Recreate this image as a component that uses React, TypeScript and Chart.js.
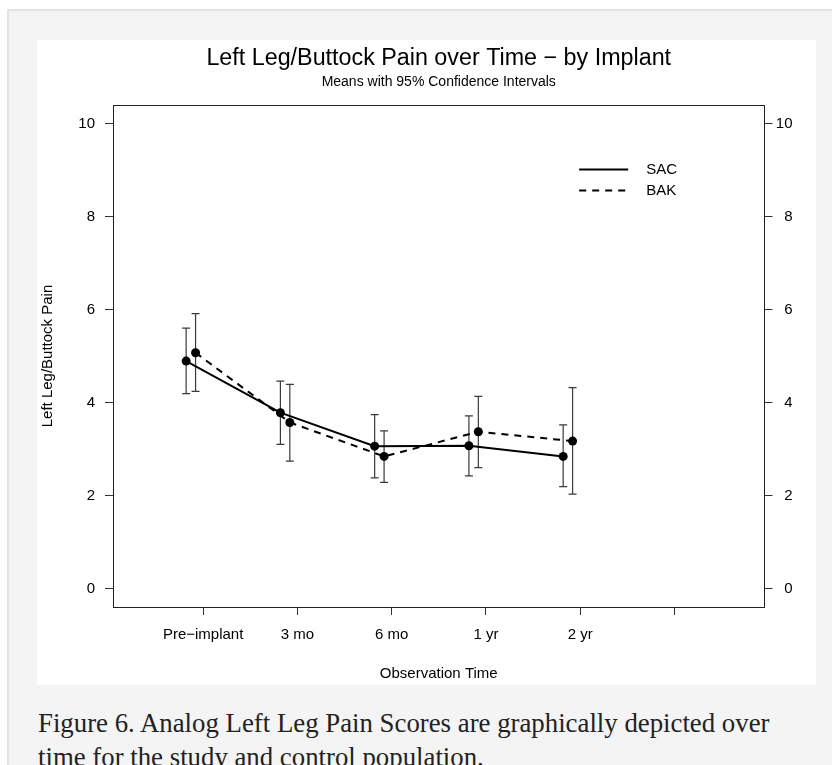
import React, { useEffect, useRef } from "react";
import { Chart, registerables } from "chart.js";

Chart.register(...registerables);

// ---------------- data ----------------
const categories = ["Pre−implant", "3 mo", "6 mo", "1 yr", "2 yr"];
const xTickPositions = [1, 2, 3, 4, 5, 6];
const xTickLabels = [...categories, ""];
const yTicks = [0, 2, 4, 6, 8, 10];

const seriesNames = ["SAC", "BAK"];
const groupOffsets = [-0.18, -0.08];

const sacMean = [4.89, 3.78, 3.06, 3.07, 2.84];
const sacLower = [4.19, 3.1, 2.38, 2.42, 2.19];
const sacUpper = [5.6, 4.46, 3.74, 3.71, 3.52];

const bakMean = [5.07, 3.57, 2.84, 3.37, 3.17];
const bakLower = [4.24, 2.74, 2.28, 2.6, 2.03];
const bakUpper = [5.91, 4.39, 3.39, 4.13, 4.32];

const titleText = "Left Leg/Buttock Pain over Time − by Implant";
const subtitleText = "Means with 95% Confidence Intervals";
const xTitle = "Observation Time";
const yTitle = "Left Leg/Buttock Pain";
const captionText =
  "Figure 6. Analog Left Leg Pain Scores are graphically depicted over time for the study and control population.";

const FONT = '"Liberation Sans", Arial, Helvetica, sans-serif';

// ---------------- plugins ----------------
const titlePlugin = {
  id: "rTitles",
  afterDraw(chart: any) {
    const { ctx, chartArea } = chart;
    const cx = (chartArea.left + chartArea.right) / 2;
    ctx.save();
    ctx.fillStyle = "#000";
    ctx.textAlign = "center";
    ctx.textBaseline = "middle";
    ctx.font = `23.3px ${FONT}`;
    ctx.fillText(titleText, cx, 18.5);
    ctx.font = `14px ${FONT}`;
    ctx.fillText(subtitleText, cx, 42.5);
    ctx.restore();
  },
};

const errorBarPlugin = {
  id: "errorBars",
  beforeDatasetsDraw(chart: any) {
    const { ctx } = chart;
    const xs = chart.scales.x;
    const ys = chart.scales.y;
    ctx.save();
    ctx.strokeStyle = "#3a3a3a";
    ctx.lineWidth = 1.2;
    chart.data.datasets.forEach((ds: any) => {
      ds.data.forEach((p: any, i: number) => {
        const px = xs.getPixelForValue(p.x);
        const lo = ys.getPixelForValue(ds.lower[i]);
        const hi = ys.getPixelForValue(ds.upper[i]);
        ctx.beginPath();
        ctx.moveTo(px, lo);
        ctx.lineTo(px, hi);
        ctx.moveTo(px - 4, lo);
        ctx.lineTo(px + 4, lo);
        ctx.moveTo(px - 4, hi);
        ctx.lineTo(px + 4, hi);
        ctx.stroke();
      });
    });
    ctx.restore();
  },
};

const legendPlugin = {
  id: "rLegend",
  afterDraw(chart: any) {
    const { ctx } = chart;
    const xs = chart.scales.x;
    const ys = chart.scales.y;
    const x0 = xs.getPixelForValue(4.99);
    const y0 = ys.getPixelForValue(9.01);
    ctx.save();
    ctx.font = `15px ${FONT}`;
    ctx.textAlign = "left";
    ctx.textBaseline = "middle";
    chart.data.datasets.forEach((ds: any, i: number) => {
      const y = y0 + i * 21;
      ctx.strokeStyle = ds.borderColor;
      ctx.lineWidth = ds.borderWidth;
      ctx.setLineDash(ds.borderDash || []);
      ctx.beginPath();
      ctx.moveTo(x0, y);
      ctx.lineTo(x0 + 49, y);
      ctx.stroke();
      ctx.setLineDash([]);
      ctx.fillStyle = "#000";
      ctx.fillText(ds.label, x0 + 67, y);
    });
    ctx.restore();
  },
};

const setTicks = (vals: number[]) => (scale: any) => {
  scale.ticks = vals.map((v) => ({ value: v }));
};

export default function App() {
  const canvasRef = useRef<HTMLCanvasElement | null>(null);

  useEffect(() => {
    if (!canvasRef.current) return;
    Chart.defaults.font.family = FONT;
    Chart.defaults.color = "#000";

    const makeSeries = (mean: number[], k: number) =>
      mean.map((v, i) => ({ x: xTickPositions[i] + groupOffsets[k], y: v }));

    const chart = new Chart(canvasRef.current, {
      type: "line",
      data: {
        datasets: [
          {
            label: seriesNames[0],
            data: makeSeries(sacMean, 0),
            lower: sacLower,
            upper: sacUpper,
            borderColor: "#000",
            borderWidth: 2,
            borderDash: [],
            pointRadius: 4.5,
            pointBackgroundColor: "#000",
            pointBorderColor: "#000",
            pointBorderWidth: 0,
            fill: false,
            tension: 0,
          } as any,
          {
            label: seriesNames[1],
            data: makeSeries(bakMean, 1),
            lower: bakLower,
            upper: bakUpper,
            borderColor: "#000",
            borderWidth: 2,
            borderDash: [7, 6],
            pointRadius: 4.5,
            pointBackgroundColor: "#000",
            pointBorderColor: "#000",
            pointBorderWidth: 0,
            fill: false,
            tension: 0,
          } as any,
        ],
      },
      options: {
        responsive: false,
        animation: false,
        layout: { padding: { top: 65, left: 0, right: 23.5, bottom: 0 } },
        plugins: {
          legend: { display: false },
          title: { display: false },
          tooltip: { enabled: false },
        },
        scales: {
          x: {
            type: "linear",
            position: "bottom",
            min: 0.044,
            max: 6.956,
            afterBuildTicks: setTicks(xTickPositions),
            ticks: {
              callback: (v: any) => xTickLabels[xTickPositions.indexOf(Number(v))] ?? "",
              font: { size: 15 },
              color: "#000",
              padding: 11,
              maxRotation: 0,
              autoSkip: false,
            },
            grid: { drawOnChartArea: false, drawTicks: true, tickLength: 8, color: "#333" },
            border: { display: true, color: "#222", width: 1 },
            title: {
              display: true,
              text: xTitle,
              font: { size: 15 },
              color: "#000",
              padding: { top: 0, bottom: 2 },
            },
            afterFit: (s: any) => {
              s.height = 78;
            },
          },
          x2: {
            type: "linear",
            position: "top",
            min: 0,
            max: 1,
            ticks: { display: false },
            grid: { display: false, drawTicks: false },
            border: { display: true, color: "#222", width: 1 },
            afterFit: (s: any) => {
              s.height = 0;
            },
          },
          y: {
            type: "linear",
            position: "left",
            min: -0.4,
            max: 10.4,
            afterBuildTicks: setTicks(yTicks),
            ticks: { font: { size: 15 }, color: "#000", padding: 10 },
            grid: { drawOnChartArea: false, drawTicks: true, tickLength: 8, color: "#333" },
            border: { display: true, color: "#222", width: 1 },
            title: {
              display: true,
              text: yTitle,
              font: { size: 15 },
              color: "#000",
              padding: { top: 1.5, bottom: 0 },
            },
            afterFit: (s: any) => {
              s.width = 76;
            },
          },
          y2: {
            type: "linear",
            position: "right",
            min: -0.4,
            max: 10.4,
            afterBuildTicks: setTicks(yTicks),
            ticks: { font: { size: 15 }, color: "#000", padding: 4, crossAlign: "far" },
            grid: { drawOnChartArea: false, drawTicks: true, tickLength: 8, color: "#333" },
            border: { display: true, color: "#222", width: 1 },
            afterFit: (s: any) => {
              s.width = 28;
            },
          },
        } as any,
      },
      plugins: [errorBarPlugin, titlePlugin, legendPlugin],
    });
    return () => chart.destroy();
  }, []);

  return (
    <div
      style={{
        position: "fixed",
        left: 0,
        top: 0,
        width: "100vw",
        height: "100vh",
        overflow: "hidden",
        background: "#fff",
      }}
    >
      <div
        style={{
          position: "absolute",
          left: 7,
          top: 9,
          right: -20,
          bottom: -20,
          background: "#f4f4f4",
          borderTop: "2px solid #e3e3e3",
          borderLeft: "2px solid #e3e3e3",
        }}
      />
      <div
        style={{
          position: "absolute",
          left: 37,
          top: 40,
          width: 779,
          height: 645,
          background: "#fff",
        }}
      >
        <canvas ref={canvasRef} width={779} height={645} style={{ display: "block" }} />
      </div>
      <div
        style={{
          position: "absolute",
          left: 38,
          top: 706,
          width: 748,
          fontFamily: '"Liberation Serif", "Times New Roman", serif',
          fontSize: 26.8,
          lineHeight: "34px",
          color: "#222",
        }}
      >
        {captionText}
      </div>
    </div>
  );
}
